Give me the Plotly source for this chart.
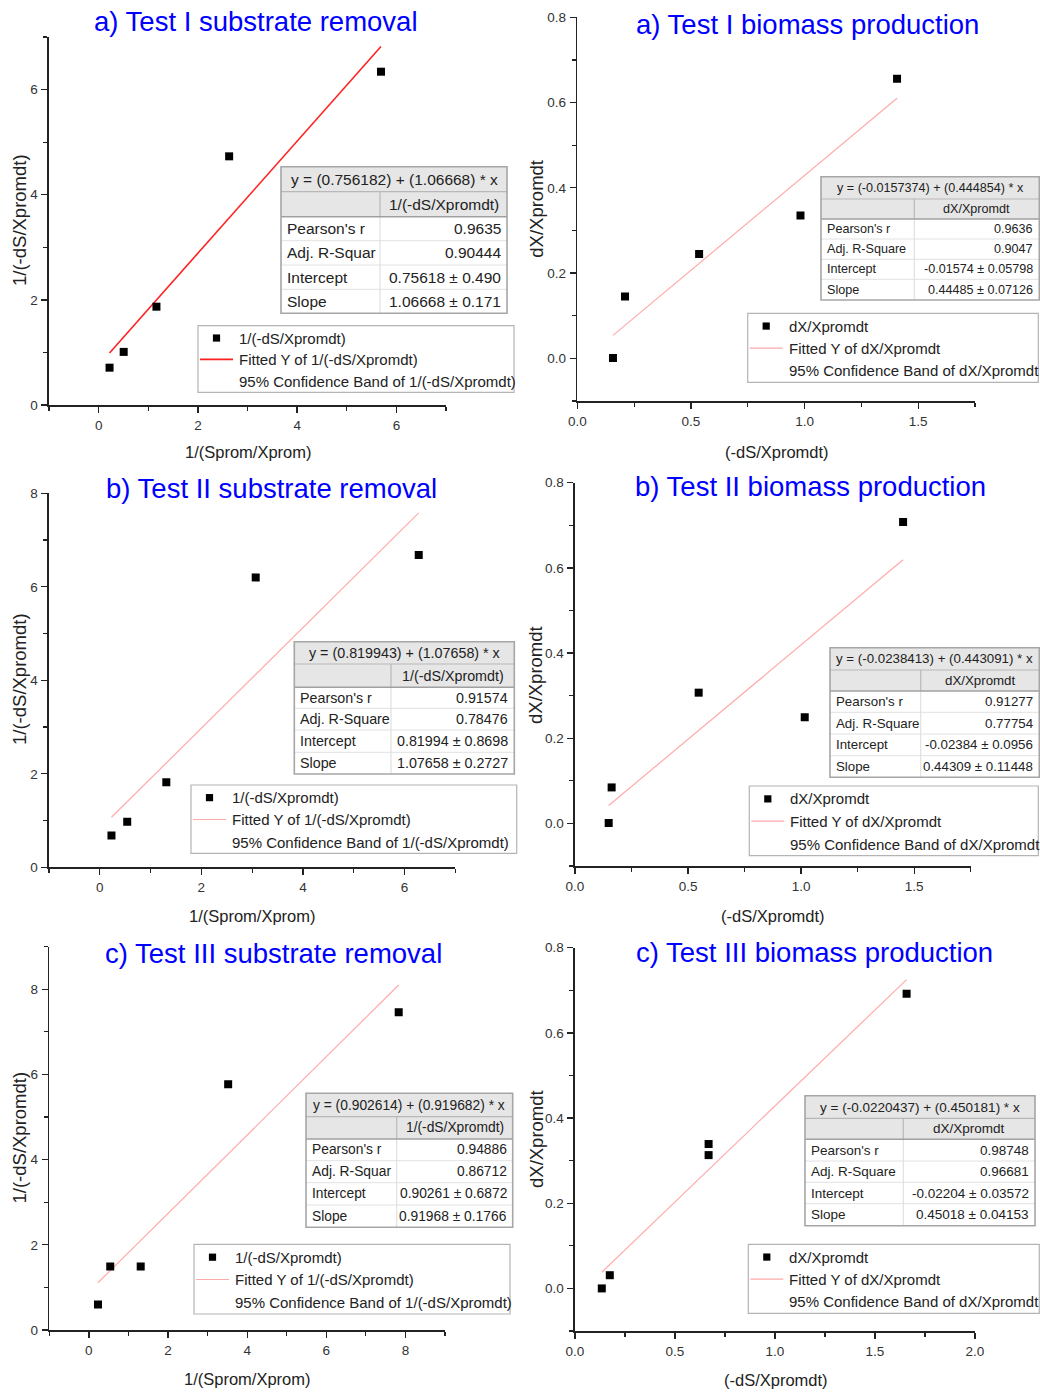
import plotly.graph_objects as go

W, H = 1040, 1394
FONT = "Liberation Sans, Arial, sans-serif"

# ------------------------------------------------------------------ data
panel_titles = [
    "a) Test I substrate removal", "a) Test I biomass production",
    "b) Test II substrate removal", "b) Test II biomass production",
    "c) Test III substrate removal", "c) Test III biomass production",
]
x_labels = ["1/(Sprom/Xprom)", "(-dS/Xpromdt)"] * 3
y_labels = ["1/(-dS/Xpromdt)", "dX/Xpromdt"] * 3
series_names = ["1/(-dS/Xpromdt)", "dX/Xpromdt"] * 3

# Test I
a_sub_x = [0.22, 0.505, 1.165, 2.63, 5.69]
a_sub_y = [0.71, 1.01, 1.87, 4.73, 6.34]
a_sub_fit_x = [0.22, 5.69]
a_sub_fit_y = [0.99, 6.82]
a_bio_x = [0.157, 0.21, 0.536, 0.982, 1.407]
a_bio_y = [0.001, 0.145, 0.245, 0.335, 0.656]
a_bio_fit_x = [0.157, 1.407]
a_bio_fit_y = [0.054, 0.610]
# Test II
b_sub_x = [0.23, 0.54, 1.31, 3.07, 6.28]
b_sub_y = [0.68, 0.975, 1.82, 6.20, 6.68]
b_sub_fit_x = [0.23, 6.28]
b_sub_fit_y = [1.07, 7.58]
b_bio_x = [0.149, 0.162, 0.547, 1.016, 1.451]
b_bio_y = [0.001, 0.0845, 0.307, 0.249, 0.708]
b_bio_fit_x = [0.149, 1.451]
b_bio_fit_y = [0.042, 0.619]
# Test III
c_sub_x = [0.23, 0.54, 1.31, 3.52, 7.83]
c_sub_y = [0.60, 1.49, 1.49, 5.77, 7.46]
c_sub_fit_x = [0.23, 7.83]
c_sub_fit_y = [1.11, 8.10]
c_bio_x = [0.134, 0.174, 0.668, 0.668, 1.658]
c_bio_y = [0.0, 0.031, 0.339, 0.313, 0.692]
c_bio_fit_x = [0.134, 1.658]
c_bio_fit_y = [0.038, 0.725]

xs = [a_sub_x, a_bio_x, b_sub_x, b_bio_x, c_sub_x, c_bio_x]
ys = [a_sub_y, a_bio_y, b_sub_y, b_bio_y, c_sub_y, c_bio_y]
fxs = [a_sub_fit_x, a_bio_fit_x, b_sub_fit_x, b_bio_fit_x, c_sub_fit_x, c_bio_fit_x]
fys = [a_sub_fit_y, a_bio_fit_y, b_sub_fit_y, b_bio_fit_y, c_sub_fit_y, c_bio_fit_y]

eq_texts = [
    "y = (0.756182) + (1.06668) * x",
    "y = (-0.0157374) + (0.444854) * x",
    "y = (0.819943) + (1.07658) * x",
    "y = (-0.0238413) + (0.443091) * x",
    "y = (0.902614) + (0.919682) * x",
    "y = (-0.0220437) + (0.450181) * x",
]
stat_labels = [
    ["Pearson's r", "Adj. R-Squar", "Intercept", "Slope"],
    ["Pearson's r", "Adj. R-Square", "Intercept", "Slope"],
    ["Pearson's r", "Adj. R-Square", "Intercept", "Slope"],
    ["Pearson's r", "Adj. R-Square", "Intercept", "Slope"],
    ["Pearson's r", "Adj. R-Squar", "Intercept", "Slope"],
    ["Pearson's r", "Adj. R-Square", "Intercept", "Slope"],
]
stat_values = [
    ["0.9635", "0.90444", "0.75618 ± 0.490", "1.06668 ± 0.171"],
    ["0.9636", "0.9047", "-0.01574 ± 0.05798", "0.44485 ± 0.07126"],
    ["0.91574", "0.78476", "0.81994 ± 0.8698", "1.07658 ± 0.2727"],
    ["0.91277", "0.77754", "-0.02384 ± 0.0956", "0.44309 ± 0.11448"],
    ["0.94886", "0.86712", "0.90261 ± 0.6872", "0.91968 ± 0.1766"],
    ["0.98748", "0.96681", "-0.02204 ± 0.03572", "0.45018 ± 0.04153"],
]

x_ranges = [[-1, 7], [0, 1.75], [-1, 7], [0, 1.75], [-1, 9], [0, 2.0]]
y_ranges = [[0, 7], [-0.1, 0.8], [0, 8], [-0.1, 0.8], [0, 9], [-0.1, 0.8]]

# ------------------------------------------------------------------ layout specs (pixels)
panels = [
    dict(ax=(49, 446, 37, 405), title=(256.2, 21.5), xlab=(248, 452), ylab=(19, 220),
         tab=(281, 507, 380, [166.7, 191.7, 216.7, 240.7, 265, 289.3, 313.3]), tfs=15.5,
         leg=(198, 514, 325.7, 392.3), fit_color="#ff2020", fit_w=1.6),
    dict(ax=(577.3, 975, 17.3, 401), title=(807.8, 24.5), xlab=(776.7, 451.7), ylab=(536.7, 209),
         tab=(821, 1039.3, 914.3, [176.7, 199, 219, 239, 259.3, 279.3, 300]), tfs=12.6,
         leg=(747.7, 1038.3, 313.3, 382.3), fit_color="#ffaaaa", fit_w=1.2),
    dict(ax=(49, 455.3, 493.3, 867.3), title=(271.3, 488), xlab=(252.5, 916), ylab=(19, 679),
         tab=(294.3, 514.3, 391, [641.7, 664, 687.3, 708.3, 730, 752.3, 774]), tfs=14.3,
         leg=(191, 516.7, 785, 853.3), fit_color="#ffaaaa", fit_w=1.2),
    dict(ax=(575, 970.7, 482.7, 866), title=(810.3, 486.3), xlab=(773.3, 916), ylab=(536, 675),
         tab=(830, 1039.3, 920.7, [647.7, 670, 691, 712.3, 734, 755.7, 777.3]), tfs=13.3,
         leg=(749.3, 1038.3, 786, 855.7), fit_color="#ffaaaa", fit_w=1.2),
    dict(ax=(49.3, 445, 946.7, 1330), title=(273.7, 953.3), xlab=(247.5, 1379), ylab=(19, 1137.5),
         tab=(306, 512.7, 396.7, [1093.3, 1116.7, 1139, 1160.7, 1182.7, 1205, 1227.3]), tfs=13.8,
         leg=(194, 510, 1244.3, 1314), fit_color="#ffaaaa", fit_w=1.2),
    dict(ax=(575, 975, 947.7, 1331), title=(814.7, 952.6), xlab=(776.2, 1380), ylab=(536, 1139),
         tab=(805, 1035, 903.3, [1095.7, 1118.3, 1139.3, 1161, 1182.3, 1203.7, 1225.7]), tfs=13.5,
         leg=(748.3, 1039.3, 1244.3, 1313.3), fit_color="#ffaaaa", fit_w=1.2),
]


def PX(px):
    return px / W


def PY(py):
    return 1 - py / H


fig = go.Figure()
shapes = []
annots = []
layout_axes = {}

AX_COL = "#222222"
TXT_COL = "#222222"

for i, p in enumerate(panels):
    n = i + 1
    xn = "x" if n == 1 else f"x{n}"
    yn = "y" if n == 1 else f"y{n}"
    l, r, t, b = p["ax"]
    bio = (i % 2 == 1)
    common = dict(showgrid=False, zeroline=False, showline=True, linecolor=AX_COL, linewidth=1.6,
                  ticks="outside", ticklen=6, tickwidth=1.3, tickcolor=AX_COL, tick0=0,
                  tickfont=dict(size=13.5, color="#333333", family=FONT), fixedrange=True,
                  automargin=False)
    layout_axes["xaxis" if n == 1 else f"xaxis{n}"] = dict(
        common, domain=[PX(l), PX(r)], range=x_ranges[i], anchor=yn,
        dtick=0.5 if bio else 2, tickformat=".1f" if bio else "d", ticklabelstandoff=1,
        minor=dict(dtick=0.25 if bio else 1, ticks="outside", ticklen=4, tickwidth=1.2,
                   tickcolor=AX_COL, showgrid=False))
    layout_axes["yaxis" if n == 1 else f"yaxis{n}"] = dict(
        common, domain=[PY(b), PY(t)], range=y_ranges[i], anchor=xn,
        dtick=0.2 if bio else 2, tickformat=".1f" if bio else "d", ticklabelstandoff=1,
        minor=dict(dtick=0.1 if bio else 1, ticks="outside", ticklen=4, tickwidth=1.2,
                   tickcolor=AX_COL, showgrid=False))

    # fitted line and points
    fig.add_trace(go.Scatter(x=fxs[i], y=fys[i], mode="lines", xaxis=xn, yaxis=yn,
                             line=dict(color=p["fit_color"], width=p["fit_w"]),
                             name="Fitted Y of " + series_names[i], showlegend=False))
    fig.add_trace(go.Scatter(x=xs[i], y=ys[i], mode="markers", xaxis=xn, yaxis=yn,
                             marker=dict(symbol="square", size=8, color="black"),
                             name=series_names[i], showlegend=False))

    # titles
    annots.append(dict(text=panel_titles[i], x=PX(p["title"][0]), y=PY(p["title"][1]),
                       xref="paper", yref="paper", xanchor="center", yanchor="middle",
                       showarrow=False, font=dict(size=27.5, color="#0000ff", family=FONT)))
    annots.append(dict(text=x_labels[i], x=PX(p["xlab"][0]), y=PY(p["xlab"][1]),
                       xref="paper", yref="paper", xanchor="center", yanchor="middle",
                       showarrow=False, font=dict(size=16.5, color=TXT_COL, family=FONT)))
    annots.append(dict(text=y_labels[i], x=PX(p["ylab"][0]), y=PY(p["ylab"][1]), textangle=-90,
                       xref="paper", yref="paper", xanchor="center", yanchor="middle",
                       showarrow=False, font=dict(size=18.5, color=TXT_COL, family=FONT)))

    # statistics table
    L, R, D, rows = p["tab"]
    fs = p["tfs"]
    T, B = rows[0], rows[-1]
    shapes.append(dict(type="rect", xref="paper", yref="paper", x0=PX(L), x1=PX(R), y0=PY(B), y1=PY(T),
                       fillcolor="white", line=dict(width=0), layer="above"))
    shapes.append(dict(type="rect", xref="paper", yref="paper", x0=PX(L), x1=PX(R), y0=PY(rows[2]),
                       y1=PY(T), fillcolor="#e6e6e6", line=dict(width=0), layer="above"))
    for k in range(3, 6):
        shapes.append(dict(type="line", xref="paper", yref="paper", x0=PX(L), x1=PX(R),
                           y0=PY(rows[k]), y1=PY(rows[k]), line=dict(color="#e2e2e2", width=1), layer="above"))
    shapes.append(dict(type="line", xref="paper", yref="paper", x0=PX(D), x1=PX(D),
                       y0=PY(B), y1=PY(rows[2]), line=dict(color="#e0e0e0", width=1.2), layer="above"))
    shapes.append(dict(type="line", xref="paper", yref="paper", x0=PX(D), x1=PX(D),
                       y0=PY(rows[2]), y1=PY(rows[1]), line=dict(color="#b8b8b8", width=1.2), layer="above"))
    shapes.append(dict(type="line", xref="paper", yref="paper", x0=PX(L), x1=PX(R),
                       y0=PY(rows[1]), y1=PY(rows[1]), line=dict(color="#b8b8b8", width=1.2), layer="above"))
    shapes.append(dict(type="line", xref="paper", yref="paper", x0=PX(L), x1=PX(R),
                       y0=PY(rows[2]), y1=PY(rows[2]), line=dict(color="#a0a0a0", width=1.5), layer="above"))
    shapes.append(dict(type="rect", xref="paper", yref="paper", x0=PX(L), x1=PX(R), y0=PY(B), y1=PY(T),
                       fillcolor="rgba(0,0,0,0)", line=dict(color="#a6a6a6", width=1.6), layer="above"))
    tf = dict(size=fs, color=TXT_COL, family=FONT)
    annots.append(dict(text=eq_texts[i], x=PX((L + R) / 2), y=PY((rows[0] + rows[1]) / 2),
                       xref="paper", yref="paper", xanchor="center", yanchor="middle",
                       showarrow=False, font=tf))
    annots.append(dict(text=series_names[i], x=PX((D + R) / 2), y=PY((rows[1] + rows[2]) / 2),
                       xref="paper", yref="paper", xanchor="center", yanchor="middle",
                       showarrow=False, font=tf))
    for k in range(4):
        yc = PY((rows[k + 2] + rows[k + 3]) / 2)
        annots.append(dict(text=stat_labels[i][k], x=PX(L + 3.5), y=yc, xref="paper", yref="paper",
                           xanchor="left", yanchor="middle", showarrow=False, font=tf))
        annots.append(dict(text=stat_values[i][k], x=PX(R - 4), y=yc, xref="paper", yref="paper",
                           xanchor="right", yanchor="middle", showarrow=False, font=tf))

    # legend box
    gl, gr, gt, gb = p["leg"]
    gh = gb - gt
    rys = [gt + gh * 0.185, gt + gh * 0.505, gt + gh * 0.835]
    shapes.append(dict(type="rect", xref="paper", yref="paper", x0=PX(gl), x1=PX(gr), y0=PY(gb), y1=PY(gt),
                       fillcolor="white", line=dict(color="#b4b4b4", width=1.2), layer="above"))
    mx = gl + 18.5
    shapes.append(dict(type="rect", xref="paper", yref="paper", x0=PX(mx - 3.6), x1=PX(mx + 3.6),
                       y0=PY(rys[0] + 3.6), y1=PY(rys[0] - 3.6), fillcolor="black",
                       line=dict(width=0), layer="above"))
    shapes.append(dict(type="line", xref="paper", yref="paper", x0=PX(gl + 2), x1=PX(gl + 35),
                       y0=PY(rys[1]), y1=PY(rys[1]),
                       line=dict(color=p["fit_color"], width=p["fit_w"]), layer="above"))
    leg_texts = [series_names[i], "Fitted Y of " + series_names[i],
                 "95% Confidence Band of " + series_names[i]]
    for k in range(3):
        annots.append(dict(text=leg_texts[k], x=PX(gl + 39), y=PY(rys[k]), xref="paper", yref="paper",
                           xanchor="left", yanchor="middle", showarrow=False,
                           font=dict(size=15, color=TXT_COL, family=FONT)))

fig.update_layout(width=W, height=H, autosize=False,
                  margin=dict(l=0, r=0, t=0, b=0, pad=0, autoexpand=False),
                  paper_bgcolor="white", plot_bgcolor="white", showlegend=False,
                  font=dict(family=FONT), shapes=shapes, annotations=annots, **layout_axes)

fig.write_html("out.html", config={"displayModeBar": False, "staticPlot": True},
               post_script="document.body.style.margin='0px';document.body.style.overflow='hidden';")
